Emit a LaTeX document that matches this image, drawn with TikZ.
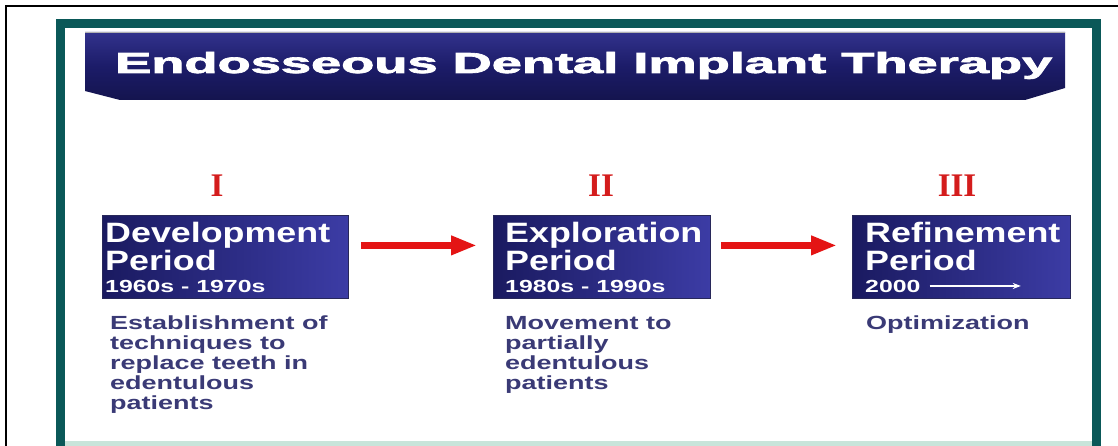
\documentclass[tikz,border=0pt]{standalone}
\usepackage{fontspec}
\setmainfont{Liberation Sans}
\newfontfamily\hfont{Liberation Sans}[FakeStretch=1.28]
\newfontfamily\dfont{Liberation Sans}[FakeStretch=1.42]
\newfontfamily\tfont{Liberation Sans}[UprightFont={* Bold},FakeBold=2.2]
\newfontfamily\rfont{Liberation Serif}
\usetikzlibrary{arrows.meta,calc}
\definecolor{tealframe}{RGB}{10,88,88}
\definecolor{bandgreen}{RGB}{200,228,218}
\definecolor{bannertop}{RGB}{50,50,140}
\definecolor{bannermid}{RGB}{28,28,105}
\definecolor{bannerbot}{RGB}{20,20,78}
\definecolor{boxdark}{RGB}{26,26,96}
\definecolor{boxlight}{RGB}{60,60,165}
\definecolor{boxedge}{RGB}{40,40,90}
\definecolor{desccol}{RGB}{58,58,118}
\definecolor{arrowred}{RGB}{228,20,20}
\definecolor{numred}{RGB}{212,28,28}
\newcommand\desclines[1]{\begin{tabular}[t]{@{}l@{}}#1\end{tabular}}
\begin{document}
\begin{tikzpicture}[x=1pt,y=-1pt,
  pbox/.style={draw=boxedge, line width=0.8pt, left color=boxdark, right color=boxlight,
    inner sep=0pt, minimum height=83pt, anchor=north west},
  htext/.style={anchor=base west, inner sep=0pt, text=white,
    font=\hfont\bfseries\fontsize{28}{30}\selectfont},
  ytext/.style={anchor=base west, inner sep=0pt, text=white,
    font=\dfont\bfseries\fontsize{17.5}{20}\selectfont},
  num/.style={anchor=base, inner sep=0pt, text=numred,
    font=\rfont\bfseries\fontsize{33}{33}\selectfont},
  desc/.style={anchor=base west, inner sep=0pt, text=desccol,
    font=\dfont\bfseries\fontsize{19}{20}\selectfont},
  redarrow/.style={draw=arrowred, line width=7pt,
    -{Triangle[length=26pt,width=18pt]}}
]
\useasboundingbox (0,0) rectangle (1118,446);
\fill[white] (0,0) rectangle (1118,446);
% outer black frame
\draw[line width=2.2pt] (6,446) -- (6,6) -- (1118,6);
% teal frame
\draw[tealframe, line width=9pt, line join=miter] (60,446) -- (60,24) -- (1096,24) -- (1096,446);
\fill[bandgreen] (64.5,441) rectangle (1091.5,446);
% banner
\shade[top color=bannertop, bottom color=bannerbot, middle color=bannermid]
  (85,32) -- (1065,32) -- (1065,88) -- (1025,100) -- (120,100) -- (85,91) -- cycle;
\draw[gray!60, line width=0.8pt] (85,32) -- (1065,32);
\node[anchor=base west, inner sep=0pt, text=white] (title) at (115,73)
  {\resizebox{937pt}{\height}{\fontsize{29}{29}\tfont Endosseous Dental Implant Therapy}};
% roman numerals
\node[num] (n1) at (217,197) {I};
\node[num] (n2) at (601,197) {II};
\node[num] (n3) at (957,197) {III};
% boxes
\node[pbox, minimum width=246pt] (b1) at (102,215) {};
\node[pbox, minimum width=217pt] (b2) at (493,215) {};
\node[pbox, minimum width=218pt] (b3) at (852,215) {};
% box texts
\node[htext] (h1) at (105,243) {Development};
\node[htext] (p1) at (105,270) {Period};
\node[ytext] (y1) at (105,292) {1960s - 1970s};
\node[htext] (h2) at (505,243) {Exploration};
\node[htext] (p2) at (505,270) {Period};
\node[ytext] (y2) at (505,292) {1980s - 1990s};
\node[htext] (h3) at (865,243) {Refinement};
\node[htext] (p3) at (865,270) {Period};
\node[ytext] (y3) at (865,292) {2000};
\coordinate (y3end) at ([xshift=-50pt]y3.east -| b3.east);
\draw[white, line width=1.6pt, -{Stealth[length=8pt,width=6pt]}] ([xshift=9pt]y3.east) -- (y3end);
% red arrows
\draw[redarrow] ([shift={(12,-11.5)}]b1.east) -- ([shift={(-16,-11.5)}]b2.west);
\draw[redarrow] ([shift={(10,-11.5)}]b2.east) -- ([shift={(-15,-11.5)}]b3.west);
% descriptions
\node[desc] (d1) at (110,329) {\desclines{Establishment of\\techniques to\\replace teeth in\\edentulous\\patients}};
\node[desc] (d2) at (505,329) {\desclines{Movement to\\partially\\edentulous\\patients}};
\node[desc] (d3) at (866,329) {Optimization};
\end{tikzpicture}
\end{document}
